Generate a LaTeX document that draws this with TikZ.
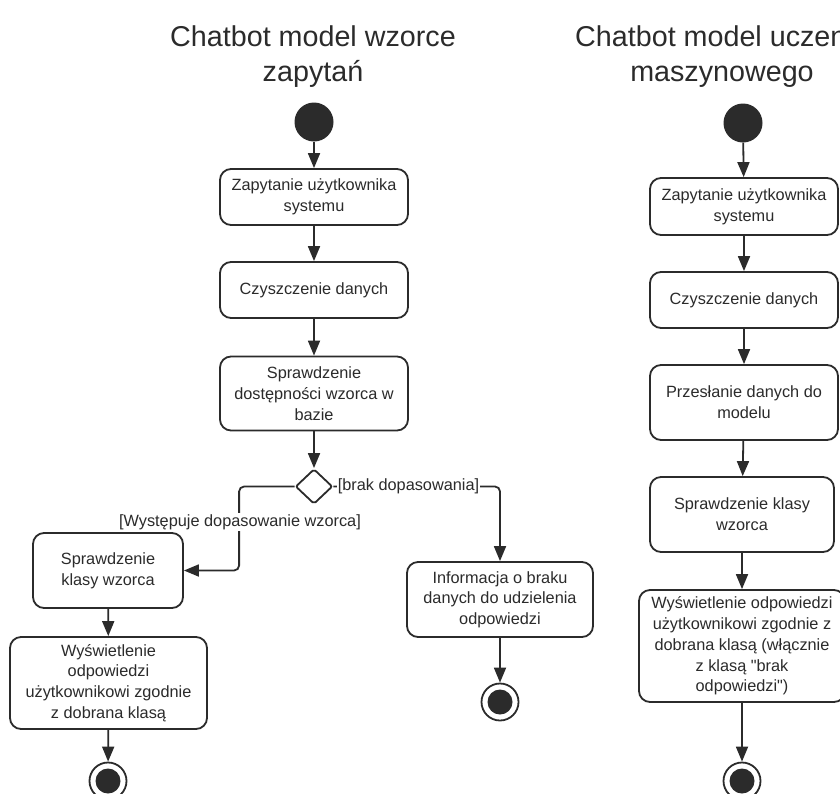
\documentclass[tikz,border=0pt]{standalone}
\usepackage{fontspec}
\setmainfont{Liberation Sans}[Ligatures=TeXOff]
\usetikzlibrary{arrows.meta,shapes.geometric}
\definecolor{ink}{HTML}{2B2B2B}
\begin{document}
\begin{tikzpicture}[x=1pt,y=-1pt,
  act/.style={draw=ink, line width=1.8pt, rounded corners=11pt, fill=white, text=ink,
    font=\fontsize{16.3}{20.7}\selectfont, align=center, inner sep=2pt},
  flow/.style={draw=ink, line width=1.8pt, -{Triangle[width=12pt,length=15pt]}, rounded corners=5pt},
  startnode/.style={circle, fill=ink, minimum size=39pt, inner sep=0pt},
  endnode/.style={circle, draw=ink, line width=1.8pt, minimum size=37pt, inner sep=0pt,
    path picture={\fill[ink] (path picture bounding box.center) circle (12.5pt);}},
  decide/.style={diamond, draw=ink, line width=1.8pt, minimum width=37pt, minimum height=35pt,
    inner sep=0pt, rounded corners=2pt, fill=white},
  guard/.style={fill=white, text=ink, inner sep=1pt, font=\fontsize{16.3}{20}\selectfont},
  heading/.style={text=ink, align=center, anchor=north, inner sep=0pt,
    font=\fontsize{28.7}{35}\selectfont}
]
\useasboundingbox (0,0) rectangle (840,793);

% titles
\node[heading] (t1) at (313,25) {Chatbot model wzorce\\zapytań};
\node[heading] (t2) at (722,25) {Chatbot model uczenia\\maszynowego};

% left diagram
\node[startnode] (s1) at (314,122) {};
\node[act, minimum width=188pt, minimum height=56pt] (a1) at (314,197) {Zapytanie użytkownika\\systemu};
\node[act, minimum width=188pt, minimum height=56pt] (a2) at (314,290) {Czyszczenie danych};
\node[act, minimum width=188pt, minimum height=74pt] (a3) at (314,393.5) {Sprawdzenie\\dostępności wzorca w\\bazie};
\node[decide] (d) at (314,486.5) {};
\node[act, minimum width=150pt, minimum height=75pt] (b1) at (108,570.5) {Sprawdzenie\\klasy wzorca};
\node[act, minimum width=197pt, minimum height=92pt] (b2) at (108.5,683) {Wyświetlenie\\odpowiedzi\\użytkownikowi zgodnie\\z dobrana klasą};
\node[endnode] (e1) at (108,781) {};
\node[act, minimum width=186pt, minimum height=75pt] (c1) at (500,599.5) {Informacja o braku\\danych do udzielenia\\odpowiedzi};
\node[endnode] (e2) at (500,702) {};

\draw[flow] (s1) -- (a1);
\draw[flow] (a1) -- (a2);
\draw[flow] (a2) -- (a3);
\draw[flow] (a3) -- (d);
\draw[flow] (d.west) -- ++(-55.5,0) |- (b1.east);
\draw[flow] (d.east) -| (c1.north);
\draw[flow] (b1) -- (b2);
\draw[flow] (b2) -- (e1);
\draw[flow] (c1) -- (e2);
\node[guard] (g1) at (240,522) {[Występuje dopasowanie wzorca]};
\node[guard] (g2) at (408.5,486.5) {[brak dopasowania]};

% right diagram
\node[startnode] (s2) at (743,123) {};
\node[act, minimum width=188pt, minimum height=57pt] (r1) at (744,206.5) {Zapytanie użytkownika\\systemu};
\node[act, minimum width=188pt, minimum height=56pt] (r2) at (744,300) {Czyszczenie danych};
\node[act, minimum width=188pt, minimum height=75pt] (r3) at (744,402.5) {Przesłanie danych do\\modelu};
\node[act, minimum width=184pt, minimum height=75pt] (r4) at (742,514.5) {Sprawdzenie klasy\\wzorca};
\node[act, minimum width=206pt, minimum height=112pt] (r5) at (742,646) {Wyświetlenie odpowiedzi\\użytkownikowi zgodnie z\\dobrana klasą (włącznie\\z klasą "brak\\odpowiedzi")};
\node[endnode] (e3) at (742,781) {};

\draw[flow] (s2) -- (r1);
\draw[flow] (r1) -- (r2);
\draw[flow] (r2) -- (r3);
\draw[flow] (r3) -- (r4);
\draw[flow] (r4) -- (r5);
\draw[flow] (r5) -- (e3);
\end{tikzpicture}
\end{document}
